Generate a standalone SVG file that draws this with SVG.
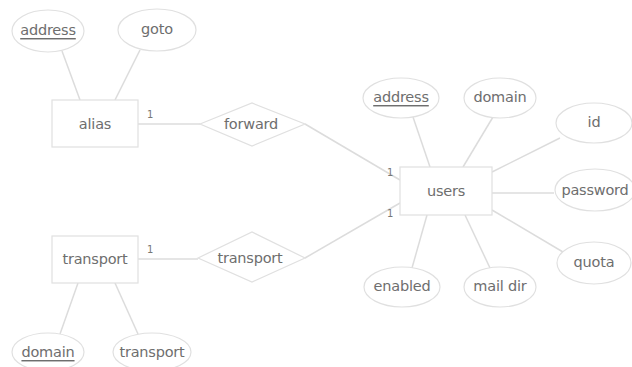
<svg xmlns="http://www.w3.org/2000/svg" width="632" height="367" viewBox="0 0 632 367">
<style>
.shape{fill:#fff;stroke:#e0e0e0;stroke-width:1.2}
.conn line{stroke:#dcdcdc;stroke-width:1.5}
text{font-family:"DejaVu Sans","Liberation Sans",sans-serif;font-size:14.5px;fill:#6e6e6e;text-anchor:middle;dominant-baseline:central;letter-spacing:-0.2px}
.key{text-decoration:underline}
.card{font-size:10px;fill:#777}
</style>
<rect width="632" height="367" fill="#fff"/>
<g class="conn">
<line x1="62" y1="51" x2="80" y2="100"/>
<line x1="140" y1="50" x2="115" y2="100"/>
<line x1="138" y1="124" x2="200" y2="124"/>
<line x1="305" y1="124" x2="400" y2="180"/>
<line x1="138" y1="259" x2="198" y2="259"/>
<line x1="305" y1="258" x2="400" y2="203"/>
<line x1="78" y1="283" x2="60" y2="334"/>
<line x1="115" y1="283" x2="138" y2="334"/>
<line x1="413" y1="117" x2="430" y2="167"/>
<line x1="493" y1="117" x2="463" y2="167"/>
<line x1="560" y1="138" x2="492" y2="172"/>
<line x1="492" y1="193" x2="554" y2="193"/>
<line x1="492" y1="210" x2="563" y2="252"/>
<line x1="427" y1="215" x2="412" y2="268"/>
<line x1="465" y1="215" x2="490" y2="268"/>
</g>
<g id="alias"><rect class="shape" x="52" y="100" width="86" height="47"/><text x="95" y="124">alias</text></g>
<g id="alias-address"><ellipse class="shape" cx="48" cy="31" rx="36" ry="21"/><text class="key" x="48" y="30">address</text></g>
<g id="alias-goto"><ellipse class="shape" cx="157" cy="30" rx="39" ry="21"/><text x="157" y="29">goto</text></g>
<g id="forward"><polygon class="shape" points="200,124 252,103 305,124 252,146"/><text x="251" y="124">forward</text></g>
<g id="transport"><rect class="shape" x="52" y="236" width="86" height="47"/><text x="95" y="259">transport</text></g>
<g id="transport-rel"><polygon class="shape" points="198,258 252,232 305,258 252,282"/><text x="250" y="258">transport</text></g>
<g id="transport-domain"><ellipse class="shape" cx="48" cy="352" rx="36" ry="19"/><text class="key" x="48" y="352">domain</text></g>
<g id="transport-transport"><ellipse class="shape" cx="152" cy="352" rx="39" ry="19"/><text x="152" y="352">transport</text></g>
<g id="users"><rect class="shape" x="400" y="167" width="92" height="48"/><text x="446" y="191">users</text></g>
<g id="users-address"><ellipse class="shape" cx="401" cy="98" rx="38" ry="20"/><text class="key" x="401" y="97">address</text></g>
<g id="users-domain"><ellipse class="shape" cx="500" cy="98" rx="36" ry="20"/><text x="500" y="97">domain</text></g>
<g id="users-id"><ellipse class="shape" cx="594" cy="123" rx="38" ry="20"/><text x="594" y="122">id</text></g>
<g id="users-password"><ellipse class="shape" cx="595" cy="190" rx="40" ry="21"/><text x="595" y="190">password</text></g>
<g id="users-quota"><ellipse class="shape" cx="594" cy="263" rx="37" ry="21"/><text x="594" y="262">quota</text></g>
<g id="users-enabled"><ellipse class="shape" cx="402" cy="287" rx="38" ry="20"/><text x="402" y="286">enabled</text></g>
<g id="users-maildir"><ellipse class="shape" cx="500" cy="287" rx="36" ry="20"/><text x="500" y="286">mail dir</text></g>
<g id="cards">
<text class="card" x="150" y="114">1</text>
<text class="card" x="150" y="249">1</text>
<text class="card" x="390" y="172">1</text>
<text class="card" x="390" y="213">1</text>
</g>
</svg>
